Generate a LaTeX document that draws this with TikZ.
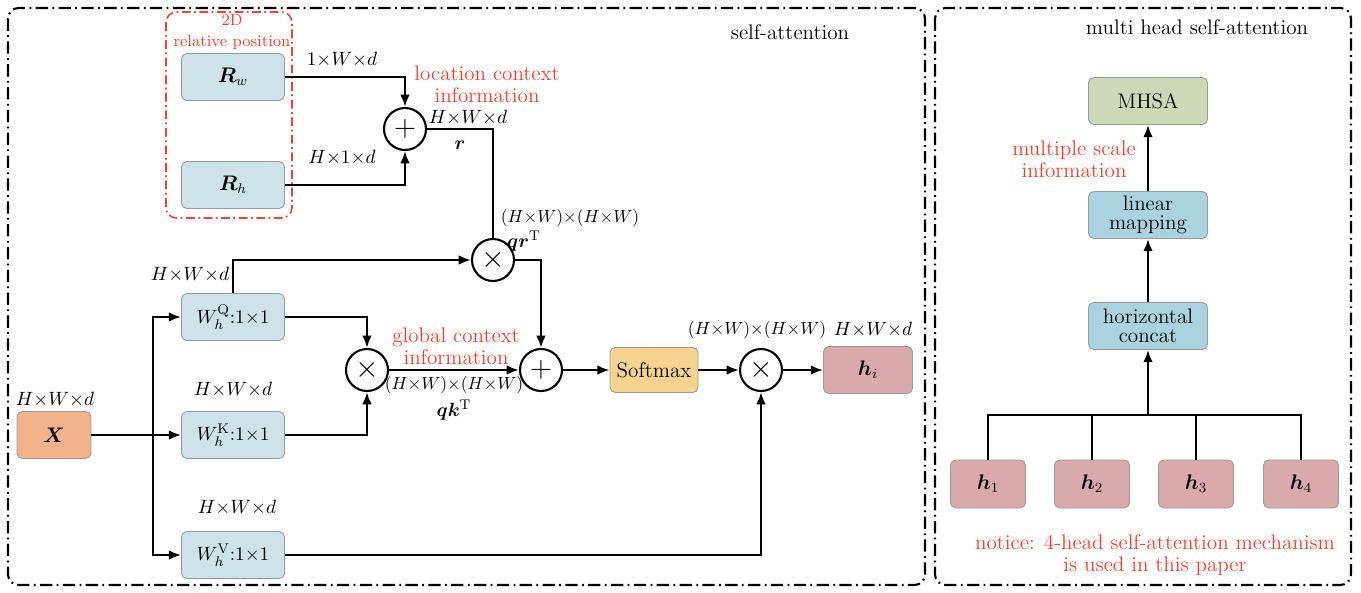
\documentclass[tikz,border=0pt]{standalone}
\usepackage{bm}
\usetikzlibrary{arrows.meta,calc}
\definecolor{boxblue}{HTML}{CDE3E9}
\definecolor{boxteal}{HTML}{A9D3DF}
\definecolor{xorange}{HTML}{F2B28C}
\definecolor{hpink}{HTML}{D9A9AB}
\definecolor{softy}{HTML}{F6D48F}
\definecolor{mhsag}{HTML}{CBD9B7}
\definecolor{notered}{HTML}{FF3B2F}
\definecolor{edgegray}{HTML}{9A9A9A}
\newcommand{\tm}{{\times}}
\begin{document}
\begin{tikzpicture}[x=0.02cm,y=-0.02cm, font=\fontsize{11}{13}\selectfont,
  box/.style={draw=edgegray, line width=0.5pt, rounded corners=3pt, minimum width=2.06cm, minimum height=0.94cm, inner sep=0pt, align=center, font=\fontsize{12}{13}\selectfont},
  hbox/.style={box, fill=hpink, minimum width=1.5cm, minimum height=0.96cm},
  rbox/.style={box, fill=boxteal, minimum width=2.38cm},
  op/.style={draw, circle, line width=1.2pt, minimum size=0.84cm, inner sep=0pt, font=\fontsize{16}{16}\selectfont},
  link/.style={line width=1.3pt},
  arr/.style={link, -{Latex[length=7pt,width=5.5pt]}},
  note/.style={text=notered, align=center, font=\fontsize{12}{12.5}\selectfont},
  ttl/.style={font=\fontsize{12}{13}\selectfont},
  long/.style={font=\fontsize{10.2}{12}\selectfont},
  frame/.style={line width=1.2pt, rounded corners=6pt, dash pattern=on 7pt off 2.5pt on 1pt off 2.5pt}]

\useasboundingbox (0,0) rectangle (1361,592);

% panel frames
\draw[frame] (8,8) rectangle (925,585);
\draw[frame] (935,8) rectangle (1351,585);
\draw[frame, draw=notered, line width=0.9pt, dash pattern=on 5pt off 2pt on 1pt off 2pt] (166,12) rectangle (292,218);

\node[ttl] (ttl) at (790,32) {self-attention};
\node[ttl] (ttr) at (1197,27) {multi head self-attention};

% relative position embeddings
\node[note, font=\fontsize{9.2}{12}\selectfont] (rel) at (232,32) {2D\\relative position};
\node[box, fill=boxblue] (rw) at (233,77) {$\bm{R}_{w}$};
\node[box, fill=boxblue] (rh) at (233,185) {$\bm{R}_{h}$};
\node[op] (p1) at (405,129) {$+$};

% projections
\node[box, fill=xorange, minimum width=1.48cm] (x) at (54,435) {$\bm{X}$};
\node[box, fill=boxblue, font=\fontsize{11}{12}\selectfont] (wq) at (233,317) {$W^{\mathrm{Q}}_{h}{:}1\tm1$};
\node[box, fill=boxblue, font=\fontsize{11}{12}\selectfont] (wk) at (233,435) {$W^{\mathrm{K}}_{h}{:}1\tm1$};
\node[box, fill=boxblue, font=\fontsize{11}{12}\selectfont] (wv) at (233,555) {$W^{\mathrm{V}}_{h}{:}1\tm1$};

% operators and output
\node[op] (t1) at (493,260) {$\times$};
\node[op] (t2) at (367,370) {$\times$};
\node[op] (p2) at (541,370) {$+$};
\node[box, fill=softy, minimum width=1.76cm, minimum height=0.9cm] (soft) at (654,370) {Softmax};
\node[op] (t3) at (761,370) {$\times$};
\node[box, fill=hpink, minimum width=1.78cm] (hi) at (868,370) {$\bm{h}_{i}$};

% dimension labels
\node (l1) at (342,60) {$1\tm W\tm d$};
\node (l2) at (342,158) {$H\tm1\tm d$};
\node[note] (loc) at (487,84) {location context\\information};
\node (l3) at (468,118) {$H\tm W\tm d$};
\node (lr) at (460,145) {$\bm{r}$};
\node[long] (l4) at (570,218) {$(H\tm W)\tm(H\tm W)$};
\node (lqr) at (524,241) {$\bm{q}\bm{r}^{\mathrm{T}}$};
\node (l5) at (190,275) {$H\tm W\tm d$};
\node (l6) at (233,390) {$H\tm W\tm d$};
\node (l7) at (237,508) {$H\tm W\tm d$};
\node (l8) at (55,400) {$H\tm W\tm d$};
\node[note] (glob) at (456,346) {global context\\information};
\node[long] (l9) at (454,385) {$(H\tm W)\tm(H\tm W)$};
\node (lqk) at (454,410) {$\bm{q}\bm{k}^{\mathrm{T}}$};
\node[long] (l10) at (757,330) {$(H\tm W)\tm(H\tm W)$};
\node (l11) at (873,330) {$H\tm W\tm d$};

% connectors, self-attention
\coordinate (fork) at (153,0);
\draw[arr] (rw.east) -| (p1.north);
\draw[arr] (rh.east) -| (p1.south);
\draw[link] (p1.east) -| (t1.north);
\draw[arr] (wq.north) |- (t1.west);
\draw[arr] (t1.east) -| (p2.north);
\draw[arr] (wq.east) -| (t2.north);
\draw[arr] (wk.east) -| (t2.south);
\draw[arr] (t2) -- (p2);
\draw[arr] (x.east) -- (wk.west);
\draw[arr] (fork |- wk) |- (wq.west);
\draw[arr] (fork |- wk) |- (wv.west);
\draw[arr] (p2) -- (soft);
\draw[arr] (soft) -- (t3);
\draw[arr] (t3) -- (hi);
\draw[arr] (wv.east) -| (t3.south);

% multi head panel
\node[box, fill=mhsag, minimum width=2.38cm] (mhsa) at (1148,101) {MHSA};
\node[rbox] (lin) at (1148,215) {linear\\[-2pt]mapping};
\node[rbox] (cat) at (1148,326) {horizontal\\[-2pt]concat};
\node[note] (msi) at (1074,159) {multiple scale\\information};
\node[hbox] (h1) at (988,484) {$\bm{h}_{1}$};
\node[hbox] (h2) at (1092,484) {$\bm{h}_{2}$};
\node[hbox] (h3) at (1196,484) {$\bm{h}_{3}$};
\node[hbox] (h4) at (1301,484) {$\bm{h}_{4}$};
\node[note] (ntc) at (1155,555) {notice: 4-head self-attention mechanism\\is used in this paper};

\coordinate (bus) at (1148,415);
\draw[link] (h1.north) |- (h4.north |- bus) -- (h4.north);
\draw[link] (h2.north) -- (h2.north |- bus);
\draw[link] (h3.north) -- (h3.north |- bus);
\draw[arr] (bus) -- (cat.south);
\draw[arr] (cat) -- (lin);
\draw[arr] (lin) -- (mhsa);
\end{tikzpicture}
\end{document}
